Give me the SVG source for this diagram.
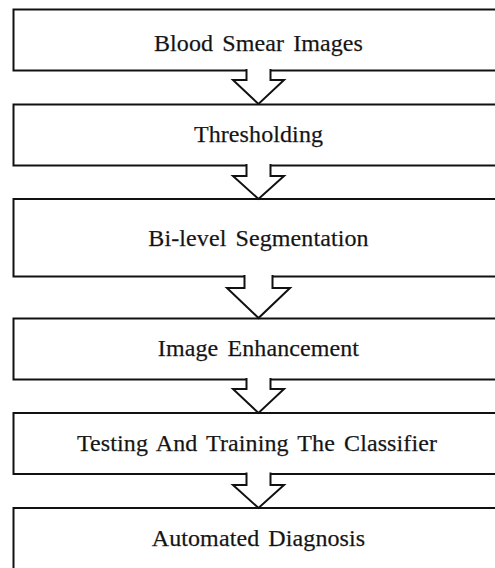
<svg xmlns="http://www.w3.org/2000/svg" width="495" height="568" viewBox="0 0 495 568">
<style>
.box{fill:#fff;stroke:#111;stroke-width:2}
.lbl{font-family:"Liberation Serif","Times New Roman",serif;font-size:24px;word-spacing:3px;letter-spacing:0.1px;fill:#111;stroke:#333;stroke-width:0.25;text-anchor:middle}
.arr{fill:#fff;stroke:#111;stroke-width:2;stroke-linejoin:miter}
</style>
<rect width="495" height="568" fill="#fff"/>
<g id="n1"><rect class="box" x="13.5" y="9.5" width="500" height="61"/><text class="lbl" x="258.5" y="50.5">Blood Smear Images</text></g>
<g id="n2"><rect class="box" x="13.5" y="104.5" width="500" height="61"/><text class="lbl" x="258.5" y="142">Thresholding</text></g>
<g id="n3"><rect class="box" x="13.5" y="199" width="500" height="77.5"/><text class="lbl" x="258.5" y="246">Bi-level Segmentation</text></g>
<g id="n4"><rect class="box" x="13.5" y="318.5" width="500" height="61"/><text class="lbl" x="258.5" y="356">Image Enhancement</text></g>
<g id="n5"><rect class="box" x="13.5" y="413" width="500" height="61"/><text class="lbl" x="257" y="451">Testing And Training The Classifier</text></g>
<g id="n6"><rect class="box" x="13.5" y="508" width="500" height="80"/><text class="lbl" x="258.5" y="546">Automated Diagnosis</text></g>
<g id="connectors">
<path class="arr" d="M246.5 69 V80 H233 L258.5 104 L284 80 H270.5 V69"/>
<path class="arr" d="M246.5 164 V176 H233 L258.5 199 L284 176 H270.5 V164"/>
<path class="arr" d="M244.5 275 V288 H227 L258.5 318 L290 288 H272.5 V275"/>
<path class="arr" d="M246.5 378 V389 H233 L258.5 413 L284 389 H270.5 V378"/>
<path class="arr" d="M246.5 472.5 V485 H233 L258.5 508 L284 485 H270.5 V472.5"/>
</g>
</svg>
